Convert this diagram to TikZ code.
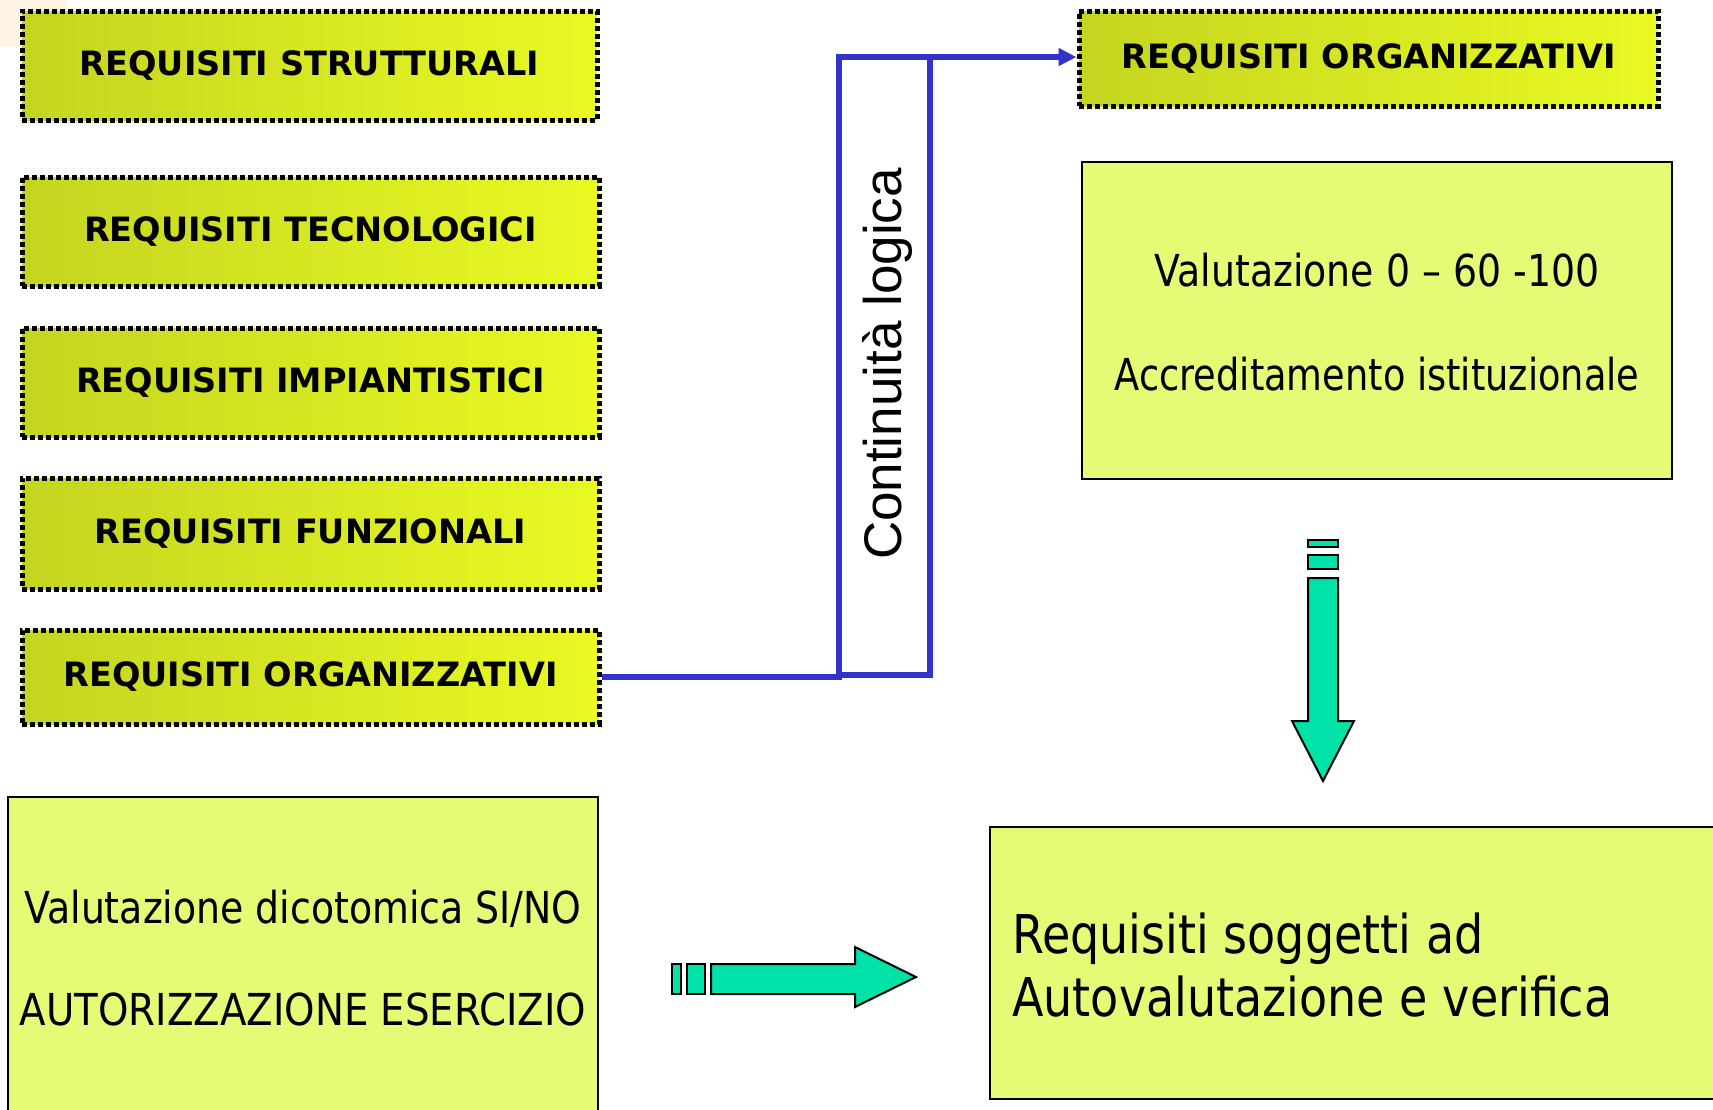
\documentclass[tikz,border=0pt]{standalone}
\usepackage{fontspec}
\usetikzlibrary{arrows.meta}
\newfontfamily\labfont{DejaVu Sans}
\newfontfamily\tahfont[FakeStretch=0.86]{DejaVu Sans}
\newfontfamily\tahcaps[FakeStretch=0.88]{DejaVu Sans}
\newfontfamily\tahnarrow[FakeStretch=0.835]{DejaVu Sans}
\newfontfamily\arialfont{Liberation Sans}
\definecolor{gleft}{RGB}{196,213,32}
\definecolor{gright}{RGB}{233,249,35}
\definecolor{pale}{RGB}{230,250,118}
\definecolor{mint}{RGB}{0,226,168}
\definecolor{blu}{RGB}{51,51,204}
\definecolor{peach}{RGB}{254,244,229}
\tikzset{
  reqbox/.style={rectangle, draw=black, line width=5pt, dash pattern=on 5pt off 3pt,
    left color=gleft, right color=gright, inner sep=0pt,
    font=\labfont\bfseries\fontsize{33.5}{38}\selectfont},
  palebox/.style={rectangle, draw=black, line width=2pt, fill=pale, inner sep=0pt},
  txt/.style={inner sep=0pt, font=\tahfont\fontsize{44}{52}\selectfont},
  bigtxt/.style={inner sep=0pt, font=\tahfont\fontsize{53.5}{62}\selectfont},
  greenarrow/.style={fill=mint, draw=black, line width=2pt, line join=miter},
  bluline/.style={draw=blu, line width=6.5pt}
}
\begin{document}
\begin{tikzpicture}[x=1pt,y=-1pt]
\useasboundingbox (0,0) rectangle (1713,1109);
\fill[white] (0,0) rectangle (1713,1109);
\fill[peach] (0,0) rectangle (67,47);

% left column of requirement boxes
\node[reqbox, minimum width=575pt, minimum height=109pt] (r1) at (309.5,65.5) {REQUISITI STRUTTURALI};
\node[reqbox, minimum width=577pt, minimum height=109pt] (r2) at (310.5,231.5) {REQUISITI TECNOLOGICI};
\node[reqbox, minimum width=577pt, minimum height=109pt] (r3) at (310.5,382.5) {REQUISITI IMPIANTISTICI};
\node[reqbox, minimum width=577pt, minimum height=111pt] (r4) at (310.5,533.5) {REQUISITI FUNZIONALI};
\node[reqbox, minimum width=577pt, minimum height=94pt] (r5) at (310.5,677) {REQUISITI ORGANIZZATIVI};

% right top box
\node[reqbox, minimum width=579pt, minimum height=95pt] (o2) at (1368.5,58.5) {REQUISITI ORGANIZZATIVI};

% evaluation box
\node[palebox, minimum width=590pt, minimum height=317pt] (ev) at (1377,320.5) {};
\node[txt, anchor=base] (ev1) at (1377,286) {Valutazione 0 – 60 -100};
\node[txt, anchor=base, font=\tahnarrow\fontsize{44}{52}\selectfont] (ev2) at (1377,390) {Accreditamento istituzionale};

% bottom left box
\node[palebox, minimum width=590pt, minimum height=323pt] (bl) at (303,958.5) {};
\node[txt, anchor=base] (bl1) at (303,923) {Valutazione dicotomica SI/NO};
\node[txt, anchor=base, font=\tahcaps\fontsize{44}{52}\selectfont] (bl2) at (303,1025) {AUTORIZZAZIONE ESERCIZIO};

% bottom right box
\node[palebox, minimum width=730pt, minimum height=272pt] (br) at (1355,963) {};
\node[bigtxt, anchor=base west] (br1) at (1012,953) {Requisiti soggetti ad};
\node[bigtxt, anchor=base west] (br2) at (1012,1016) {Autovalutazione e verifica};

% continuity rectangle
\node[rectangle, draw=blu, line width=6.5pt, outer sep=0pt, minimum width=91pt, minimum height=618pt, inner sep=0pt] (cont) at (884.5,366) {};
\node[inner sep=0pt, rotate=90, font=\arialfont\fontsize{53}{60}\selectfont] (contlab) at (887,364) {Continuità logica};

\draw[bluline] (r5.east) -- (r5.east -| cont.south west) -- (cont.south west);
\draw[bluline, -{Triangle[length=18pt,width=17pt]}] (cont.north east) -- (cont.north east -| o2.west);

% down arrow
\draw[greenarrow] (1308,540) rectangle (1338,547);
\draw[greenarrow] (1308,555) rectangle (1338,569);
\draw[greenarrow] (1308,578) -- (1338,578) -- (1338,721) -- (1354,721) -- (1323,781) -- (1292,721) -- (1308,721) -- cycle;

% right arrow
\draw[greenarrow] (672,964) rectangle (681,994);
\draw[greenarrow] (687,964) rectangle (705,994);
\draw[greenarrow] (711,964) -- (855,964) -- (855,947) -- (916,977) -- (855,1007) -- (855,994) -- (711,994) -- cycle;
\end{tikzpicture}
\end{document}
